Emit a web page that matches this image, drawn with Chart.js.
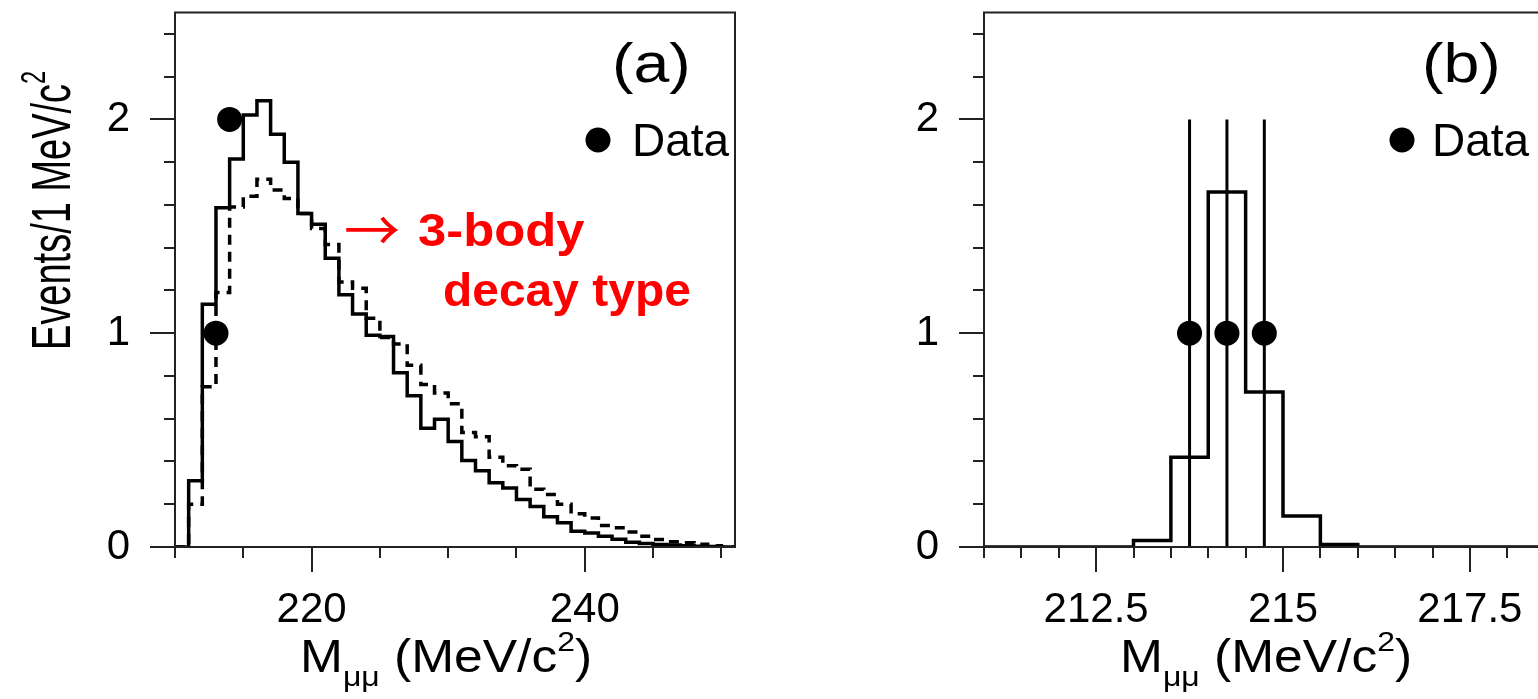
<!DOCTYPE html>
<html>
<head>
<meta charset="utf-8">
<script src="https://cdn.jsdelivr.net/npm/chart.js@4.4.1/dist/chart.umd.min.js"></script>
<style>
  html, body { margin: 0; padding: 0; background: #fff; overflow: hidden; width: 1538px; height: 699px; }
  .panel { position: absolute; top: 0; height: 699px; }
  #boxA { left: 0; width: 770px; }
  #boxB { left: 800px; width: 800px; }
</style>
</head>
<body>
<div class="panel" id="boxA"><canvas id="chartA"></canvas></div>
<div class="panel" id="boxB"><canvas id="chartB"></canvas></div>
<script>
// (a) 1 MeV/c2 bins, left edges
const binsA = [210, 211, 212, 213, 214, 215, 216, 217, 218, 219,
               220, 221, 222, 223, 224, 225, 226, 227, 228, 229,
               230, 231, 232, 233, 234, 235, 236, 237, 238, 239,
               240, 241, 242, 243, 244, 245, 246, 247, 248, 249, 250];
// MC, solid histogram
const solidA = [0, 0.31, 1.135, 1.587, 1.815, 2.02, 2.087, 1.93, 1.80, 1.56,
                1.51, 1.35, 1.18, 1.09, 0.99, 0.985, 0.815, 0.707, 0.555, 0.597,
                0.493, 0.404, 0.357, 0.30, 0.276, 0.222, 0.19, 0.141, 0.113, 0.074,
                0.065, 0.05, 0.036, 0.022, 0.016, 0.012, 0.009, 0.006, 0.004, 0.002, 0];
// MC, dashed histogram (3-body decay type)
const dashedA = [0, 0.20, 0.75, 1.19, 1.59, 1.64, 1.72, 1.67, 1.63, 1.56,
                 1.49, 1.415, 1.24, 1.21, 1.07, 0.98, 0.95, 0.85, 0.76, 0.72,
                 0.67, 0.535, 0.516, 0.42, 0.38, 0.364, 0.27, 0.245, 0.2, 0.155,
                 0.136, 0.10, 0.09, 0.07, 0.05, 0.035, 0.025, 0.02, 0.013, 0.006, 0];
const dataXA = [213, 214];
const dataYA = [1, 2];

// (b) 0.5 MeV/c2 bins, left edges
const binsB = [211, 211.5, 212, 212.5, 213, 213.5, 214, 214.5,
               215, 215.5, 216, 216.5, 217, 217.5, 218, 218.5];
const mcB = [0, 0, 0, 0, 0.03, 0.42, 1.66, 0.725,
             0.145, 0.012, 0, 0, 0, 0, 0, 0];
const dataXB = [213.75, 214.25, 214.75];
const dataYB = [1, 1, 1];
const errLowB = [0, 0, 0];
const errHighB = [2, 2, 2];

// tick labels
const yTickLabels = [0, 1, 2];
const xTickLabelsA = [220, 240];
const xTickLabelsB = [212.5, 215, 217.5];

const FONT = "'Liberation Sans', Arial, Helvetica, sans-serif";

function histPoints(edges, values, width) {
    const pts = edges.map((e, i) => ({ x: e, y: values[i] }));
    pts.push({ x: edges[edges.length - 1] + width, y: values[values.length - 1] });
    return pts;
}

function stepList(from, to, step) {
    const out = [];
    for (let v = from; v <= to + 1e-9; v += step) out.push(Math.round(v * 1000) / 1000);
    return out;
}

// frame + minor/major tick marks
const frameTicks = {
    id: 'frameTicks',
    afterDraw(chart, args, o) {
        const { ctx, chartArea: a, scales: { x, y } } = chart;
        ctx.save();
        ctx.strokeStyle = '#222';
        ctx.lineWidth = 2;
        ctx.strokeRect(a.left, a.top, a.right - a.left, a.bottom - a.top);
        ctx.beginPath();
        o.yMinor.forEach(v => { const p = Math.round(y.getPixelForValue(v)); ctx.moveTo(a.left - 11, p); ctx.lineTo(a.left, p); });
        o.yMajor.forEach(v => { const p = Math.round(y.getPixelForValue(v)); ctx.moveTo(a.left - 25, p); ctx.lineTo(a.left, p); });
        o.xMinor.forEach(v => { const p = Math.round(x.getPixelForValue(v)); ctx.moveTo(p, a.bottom); ctx.lineTo(p, a.bottom + 11); });
        o.xMajor.forEach(v => { const p = Math.round(x.getPixelForValue(v)); ctx.moveTo(p, a.bottom); ctx.lineTo(p, a.bottom + 25); });
        ctx.stroke();
        ctx.restore();
    }
};

// vertical error bars on data points
const errorBars = {
    id: 'errorBars',
    afterDatasetsDraw(chart, args, o) {
        if (!o.xs) return;
        const { ctx, scales: { x, y } } = chart;
        ctx.save();
        ctx.strokeStyle = '#000';
        ctx.lineWidth = 3;
        ctx.beginPath();
        o.xs.forEach((v, i) => {
            const px = x.getPixelForValue(v);
            ctx.moveTo(px, y.getPixelForValue(o.low[i]));
            ctx.lineTo(px, y.getPixelForValue(o.high[i]));
        });
        ctx.stroke();
        ctx.restore();
    }
};

function richText(ctx, parts, size, bold) {
    let cx = 0;
    parts.forEach(p => {
        const small = p.sub || p.sup;
        const s = small ? size * 0.62 : size;
        ctx.font = (bold ? 'bold ' : '') + s + 'px ' + (p.family || FONT);
        const dy = p.sub ? size * 0.3 : p.sup ? -size * 0.45 : 0;
        ctx.fillText(p.t, cx, dy);
        cx += ctx.measureText(p.t).width;
    });
}

// text drawn with a horizontal stretch, as in the reference figure
function stretched(ctx, x, y, sx, fn) {
    ctx.save();
    ctx.translate(x, y);
    ctx.scale(sx, 1);
    fn();
    ctx.restore();
}

// axis titles, panel label, legend, annotation
const panelText = {
    id: 'panelText',
    afterDraw(chart, args, o) {
        const ctx = chart.ctx;
        ctx.save();
        ctx.fillStyle = '#000';
        ctx.textBaseline = 'alphabetic';
        ctx.textAlign = 'left';

        // y title, rotated
        ctx.save();
        ctx.translate(o.yTitle.x, o.yTitle.y);
        ctx.scale(o.yTitle.sx, 1);
        ctx.rotate(-Math.PI / 2);
        richText(ctx, o.yTitle.parts, o.yTitle.size);
        ctx.restore();

        // x title
        stretched(ctx, o.xTitle.x, o.xTitle.y, o.xTitle.sx, () => richText(ctx, o.xTitle.parts, o.xTitle.size));

        // panel label
        stretched(ctx, o.label.x, o.label.y, o.label.sx, () => {
            ctx.font = o.label.size + 'px ' + FONT;
            ctx.fillText(o.label.t, 0, 0);
        });

        // legend
        ctx.beginPath();
        ctx.arc(o.legend.cx, o.legend.cy, 12.5, 0, Math.PI * 2);
        ctx.fill();
        ctx.font = o.legend.size + 'px ' + FONT;
        ctx.fillText('Data', o.legend.tx, o.legend.ty);

        // red note
        if (o.note) {
            ctx.fillStyle = '#ff0000';
            ctx.font = o.note.arrowSize + "px 'Noto Sans CJK JP', 'DejaVu Sans', sans-serif";
            ctx.textBaseline = 'middle';
            ctx.fillText('\u2192', o.note.ax, o.note.ay);
            ctx.textBaseline = 'alphabetic';
            o.note.lines.forEach(l => stretched(ctx, l.x, l.y, l.sx, () => {
                ctx.font = 'bold ' + o.note.size + 'px ' + FONT;
                ctx.fillText(l.t, 0, 0);
            }));
        }
        ctx.restore();
    }
};

function makeChart(id, cfg) {
    return new Chart(document.getElementById(id), {
        type: 'line',
        data: { datasets: cfg.datasets },
        options: {
            responsive: true,
            maintainAspectRatio: false,
            animation: false,
            devicePixelRatio: 1,
            layout: { padding: { left: 0, top: cfg.top, right: cfg.right, bottom: 0 } },
            plugins: {
                legend: { display: false },
                tooltip: { enabled: false },
                frameTicks: cfg.ticks,
                errorBars: cfg.errors || {},
                panelText: cfg.text
            },
            scales: {
                x: {
                    type: 'linear',
                    min: cfg.xMin, max: cfg.xMax,
                    grid: { display: false },
                    border: { display: false },
                    afterBuildTicks: s => { s.ticks = cfg.xLabels.map(v => ({ value: v })); },
                    afterFit: s => { s.height = cfg.xHeight; s.paddingLeft = 0; s.paddingRight = 0; },
                    ticks: {
                        autoSkip: false, maxRotation: 0, padding: 30, color: '#000',
                        font: { family: FONT, size: 42 },
                        callback: v => String(v)
                    }
                },
                y: {
                    min: 0, max: 2.5,
                    grid: { display: false },
                    border: { display: false },
                    afterBuildTicks: s => { s.ticks = yTickLabels.map(v => ({ value: v })); },
                    afterFit: s => { s.width = cfg.yWidth; s.paddingTop = 0; s.paddingBottom = 0; },
                    ticks: {
                        autoSkip: false, padding: 37, color: '#000',
                        font: { family: FONT, size: 42 },
                        callback: v => String(v)
                    }
                }
            }
        },
        plugins: [frameTicks, errorBars, panelText]
    });
}

const histStyle = { pointRadius: 0, borderWidth: 3.5, borderColor: '#000', fill: false, stepped: true, tension: 0 };
const dotStyle = { showLine: false, pointRadius: 12.5, pointHoverRadius: 12.5, pointBackgroundColor: '#000', pointBorderWidth: 0 };
const muTitle = [{ t: 'M' }, { t: '\u03bc\u03bc', sub: true }, { t: ' (MeV/c' }, { t: '2', sup: true }, { t: ')' }];

makeChart('chartA', {
    top: 9, right: 35, yWidth: 175, xHeight: 152, xMin: 210, xMax: 251,
    xLabels: xTickLabelsA,
    datasets: [
        Object.assign({ label: 'MC', data: histPoints(binsA, solidA, 1) }, histStyle),
        Object.assign({ label: 'MC 3-body', data: histPoints(binsA, dashedA, 1), borderDash: [10, 7] }, histStyle),
        Object.assign({ label: 'Data', data: dataXA.map((x, i) => ({ x, y: dataYA[i] })) }, dotStyle)
    ],
    ticks: {
        yMinor: stepList(0, 2.4, 0.2), yMajor: yTickLabels,
        xMinor: stepList(210, 250, 5), xMajor: xTickLabelsA
    },
    text: {
        yTitle: { x: 70, y: 350, size: 38, sx: 1.45, parts: [{ t: 'Events/1 MeV/c' }, { t: '2', sup: true }] },
        xTitle: { x: 300, y: 672, size: 46, sx: 1.12, parts: muTitle },
        label: { t: '(a)', x: 612, y: 82, size: 56, sx: 1.15 },
        legend: { cx: 598, cy: 140, tx: 632, ty: 156, size: 46 },
        note: {
            ax: 344, ay: 230, arrowSize: 56, size: 47,
            lines: [{ t: '3-body', x: 418, y: 246, sx: 1.08 }, { t: 'decay type', x: 443, y: 306, sx: 1.02 }]
        }
    }
});

makeChart('chartB', {
    top: 9, right: 18, yWidth: 184, xHeight: 152, xMin: 211, xMax: 219,
    xLabels: xTickLabelsB,
    datasets: [
        Object.assign({ label: 'MC', data: histPoints(binsB, mcB, 0.5) }, histStyle),
        Object.assign({ label: 'Data', data: dataXB.map((x, i) => ({ x, y: dataYB[i] })) }, dotStyle)
    ],
    ticks: {
        yMinor: stepList(0, 2.4, 0.2), yMajor: yTickLabels,
        xMinor: stepList(211, 219, 0.5), xMajor: xTickLabelsB
    },
    errors: { xs: dataXB, low: errLowB, high: errHighB },
    text: {
        yTitle: { x: 890, y: 350, size: 38, sx: 1.45, parts: [{ t: 'Events/0.5 MeV/c' }, { t: '2', sup: true }] },
        xTitle: { x: 320, y: 672, size: 46, sx: 1.12, parts: muTitle },
        label: { t: '(b)', x: 622, y: 82, size: 56, sx: 1.15 },
        legend: { cx: 602, cy: 140, tx: 632, ty: 156, size: 46 }
    }
});
</script>
</body>
</html>
